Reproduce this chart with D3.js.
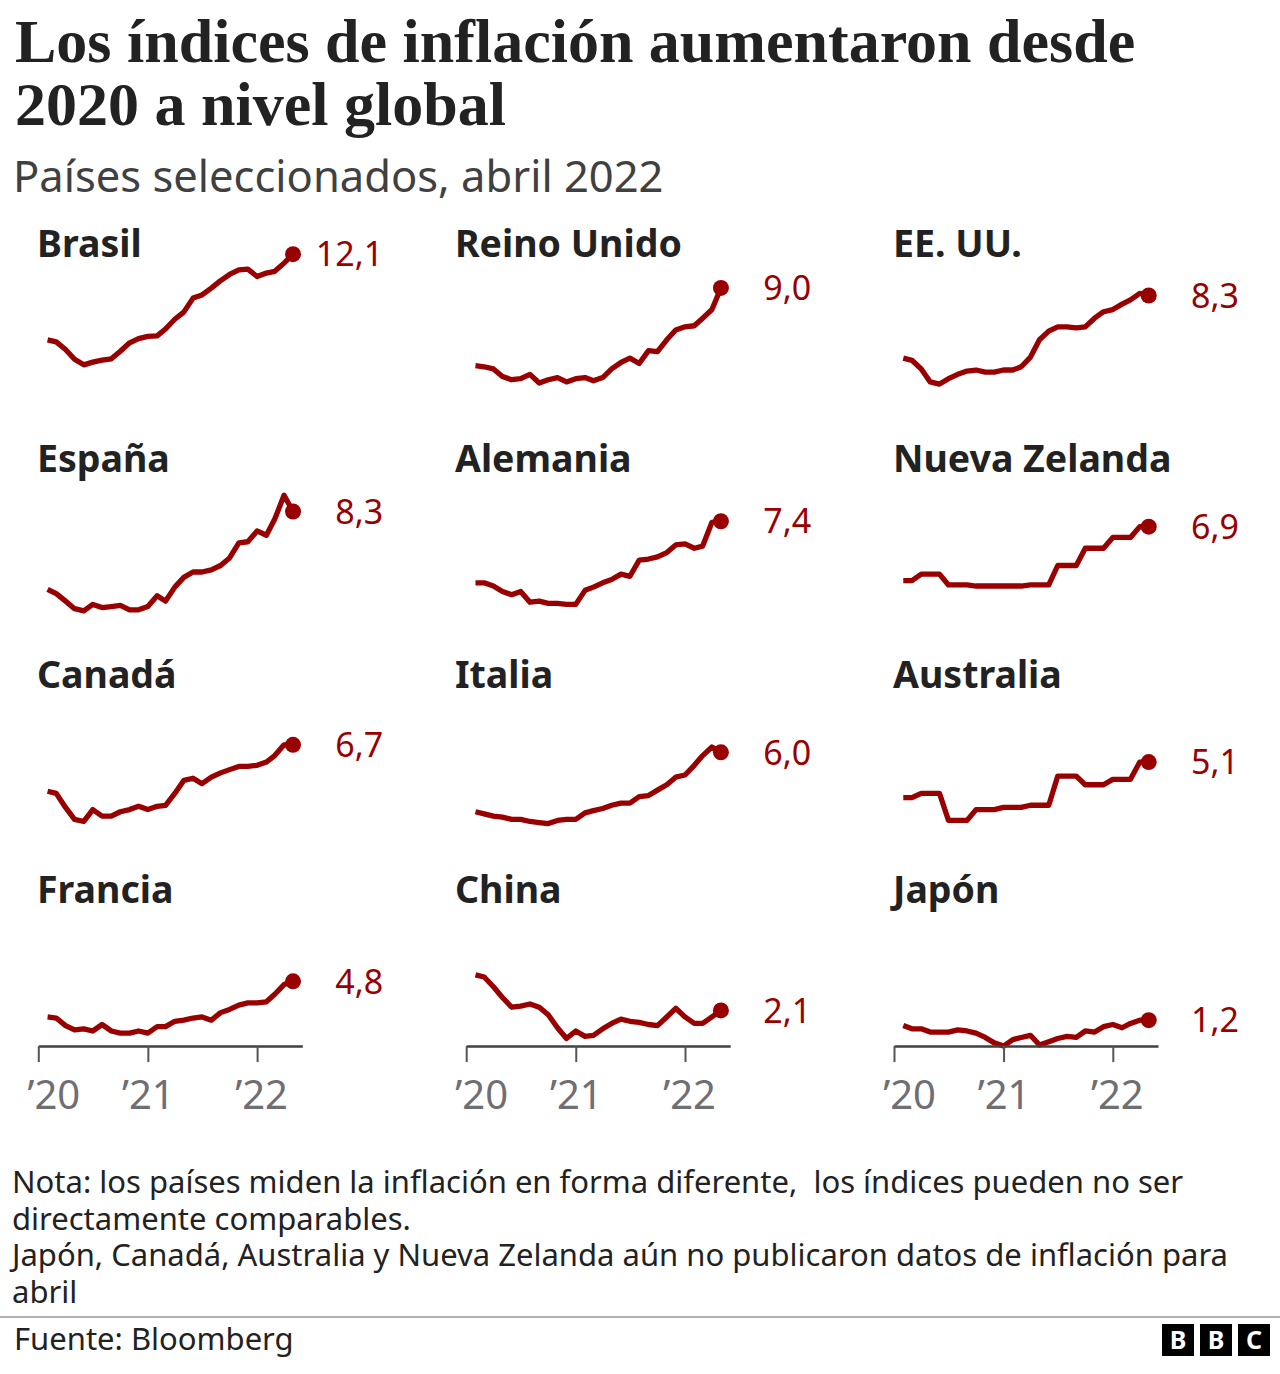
<!DOCTYPE html>
<html><head><meta charset="utf-8">
<script src="https://cdn.jsdelivr.net/npm/d3@7"></script>
<style>body{margin:0;background:#fff}svg{display:block}</style>
</head><body>
<script>
// ---------- DATA ----------
const months = ["2020-01","2020-02","2020-03","2020-04","2020-05","2020-06","2020-07","2020-08","2020-09","2020-10","2020-11","2020-12",
  "2021-01","2021-02","2021-03","2021-04","2021-05","2021-06","2021-07","2021-08","2021-09","2021-10","2021-11","2021-12",
  "2022-01","2022-02","2022-03","2022-04"];
const countries = ["Brasil","Reino Unido","EE. UU.","España","Alemania","Nueva Zelanda","Canadá","Italia","Australia","Francia","China","Japón"];
const brasil = [4.19,4.01,3.30,2.40,1.88,2.13,2.31,2.44,3.14,3.92,4.31,4.52,4.56,5.20,6.10,6.76,8.06,8.35,8.99,9.68,10.25,10.67,10.74,10.06,10.38,10.54,11.30,12.13];
const reinoUnido = [1.8,1.7,1.5,0.8,0.5,0.6,1.0,0.2,0.5,0.7,0.3,0.6,0.7,0.4,0.7,1.5,2.1,2.5,2.0,3.2,3.1,4.2,5.1,5.4,5.5,6.2,7.0,9.0];
const eeuu = [2.5,2.3,1.5,0.3,0.1,0.6,1.0,1.3,1.4,1.2,1.2,1.4,1.4,1.7,2.6,4.2,5.0,5.4,5.4,5.3,5.4,6.2,6.8,7.0,7.5,7.9,8.5,8.3];
const espana = [1.1,0.7,0.0,-0.7,-0.9,-0.3,-0.6,-0.5,-0.4,-0.8,-0.8,-0.5,0.5,0.0,1.3,2.2,2.7,2.7,2.9,3.3,4.0,5.4,5.5,6.5,6.1,7.6,9.8,8.3];
const alemania = [1.7,1.7,1.4,0.9,0.6,0.9,-0.1,0.0,-0.2,-0.2,-0.3,-0.3,1.0,1.3,1.7,2.0,2.5,2.3,3.8,3.9,4.1,4.5,5.2,5.3,4.9,5.1,7.3,7.4];
const nuevaZelanda = [1.9,1.9,2.5,2.5,2.5,1.5,1.5,1.5,1.4,1.4,1.4,1.4,1.4,1.4,1.5,1.5,1.5,3.3,3.3,3.3,4.9,4.9,4.9,5.9,5.9,5.9,6.9,6.9];
const canada = [2.4,2.2,0.9,-0.2,-0.4,0.7,0.1,0.1,0.5,0.7,1.0,0.7,1.0,1.1,2.2,3.4,3.6,3.1,3.7,4.1,4.4,4.7,4.7,4.8,5.1,5.7,6.7,6.7];
const italia = [0.5,0.3,0.1,0.0,-0.2,-0.2,-0.4,-0.5,-0.6,-0.3,-0.2,-0.2,0.4,0.6,0.8,1.1,1.3,1.3,1.9,2.0,2.5,3.0,3.7,3.9,4.8,5.7,6.5,6.0];
const australia = [1.8,1.8,2.2,2.2,2.2,-0.3,-0.3,-0.3,0.7,0.7,0.7,0.9,0.9,0.9,1.1,1.1,1.1,3.8,3.8,3.8,3.0,3.0,3.0,3.5,3.5,3.5,5.1,5.1];
const francia = [1.5,1.4,0.7,0.3,0.4,0.2,0.8,0.2,0.0,0.0,0.2,0.0,0.6,0.6,1.1,1.2,1.4,1.5,1.2,1.9,2.2,2.6,2.8,2.8,2.9,3.6,4.5,4.8];
const china = [5.4,5.2,4.3,3.3,2.4,2.5,2.7,2.4,1.7,0.5,-0.5,0.2,-0.3,-0.2,0.4,0.9,1.3,1.1,1.0,0.8,0.7,1.5,2.3,1.5,0.9,0.9,1.5,2.1];
const japon = [0.7,0.4,0.4,0.1,0.1,0.1,0.3,0.2,0.0,-0.4,-0.9,-1.2,-0.6,-0.4,-0.2,-1.1,-0.8,-0.5,-0.3,-0.4,0.2,0.1,0.6,0.8,0.5,0.9,1.2,1.2];
const seriesList = [brasil, reinoUnido, eeuu, espana, alemania, nuevaZelanda, canada, italia, australia, francia, china, japon];
const tickYears = ["2020-01","2021-01","2022-01"];
const tickLabels = ["\u201920","\u201921","\u201922"];

// ---------- LAYOUT ----------
const W = 1280, H = 1374;
const RED = "#990000";
const colX = [38.3, 466.2, 894];        // panel origin (Jan 2020)
const nameX = [37, 455, 893];
const rowTop = r => 253.4 + 216 * r;    // top of y-range in each row
const nameY = r => 257 + 215.3 * r;
const PW = 264, PH = 144.7;

const parse = d3.timeParse("%Y-%m");
const x = d3.scaleTime().domain([new Date(2020,0,1), new Date(2022,5,1)]).range([0, PW]);
const y = d3.scaleLinear().domain([-1.2, 12.2]).range([PH, 0]);
const ptDate = m => d3.timeMonth.offset(parse(m), 1);
const loc = d3.formatLocale({decimal: ",", thousands: ".", grouping: [3], currency: ["", ""]});
const fmt = loc.format(".1f");

const svg = d3.select("body").append("svg").attr("width", W).attr("height", H)
  .style("font-family", "'Noto Sans', sans-serif");

// Title
const title = svg.append("text")
  .style("font-family", "'Liberation Serif', serif").style("font-weight", "bold")
  .style("font-size", "62px").attr("fill", "#222");
title.append("tspan").attr("x", 15).attr("y", 62).text("Los índices de inflación aumentaron desde");
title.append("tspan").attr("x", 15).attr("y", 125).text("2020 a nivel global");

svg.append("text").attr("x", 13).attr("y", 192).style("font-size", "43.5px").attr("fill", "#404040")
  .text("Países seleccionados, abril 2022");

const line = d3.line().x((d, i) => x(ptDate(months[i]))).y(d => y(d)).curve(d3.curveLinear);

countries.forEach((name, k) => {
  const r = Math.floor(k / 3), c = k % 3;
  const data = seriesList[k];
  svg.append("text").attr("x", nameX[c]).attr("y", nameY(r))
    .style("font-size", "37.5px").style("font-weight", "bold").attr("fill", "#222").text(name);
  const g = svg.append("g").attr("transform", `translate(${colX[c]},${rowTop(r)})`);
  g.append("path").datum(data).attr("d", line).attr("fill", "none").attr("stroke", RED)
    .attr("stroke-width", 5.3).attr("stroke-linejoin", "round").attr("stroke-linecap", "butt");
  const last = data.length - 1;
  g.append("circle").attr("cx", x(ptDate(months[last]))).attr("cy", y(data[last])).attr("r", 8).attr("fill", RED);
  g.append("text").attr("x", 345).attr("y", y(data[last])).attr("dy", "0.36em")
    .attr("text-anchor", "end").style("font-size", "34px").attr("fill", RED).text(fmt(data[last]));

  if (r === 3) {
    const ax = g.append("g").attr("transform", `translate(0,${PH})`)
      .call(d3.axisBottom(x).tickValues(tickYears.map(parse)).tickSize(16).tickSizeOuter(0)
        .tickFormat((d, i) => tickLabels[i]));
    ax.select(".domain").attr("stroke", "#404040").attr("stroke-width", 2.5);
    ax.selectAll(".tick line").attr("stroke", "#555").attr("stroke-width", 2);
    const offs = [15, 0, 4];
    ax.selectAll(".tick text").attr("y", 63).attr("dy", 0).attr("x", (d, i) => offs[i])
      .style("font-size", "40px").style("font-family", "'Noto Sans', sans-serif").attr("fill", "#6e6e73");
  }
});

// Notes
const notes = ["Nota: los países miden la inflación en forma diferente,  los índices pueden no ser",
  "directamente comparables.",
  "Japón, Canadá, Australia y Nueva Zelanda aún no publicaron datos de inflación para",
  "abril"];
const ny = [1193, 1230, 1266, 1303];
notes.forEach((t, i) => svg.append("text").attr("x", 12).attr("y", ny[i]).style("font-size", "31px")
  .style("white-space", "pre").attr("fill", "#222").text(t));

svg.append("line").attr("x1", 0).attr("x2", W).attr("y1", 1317).attr("y2", 1317).attr("stroke", "#999").attr("stroke-width", 1.5);
svg.append("text").attr("x", 14).attr("y", 1350).style("font-size", "31px").attr("fill", "#222").text("Fuente: Bloomberg");

// BBC logo
["B","B","C"].forEach((l, i) => {
  const lx = 1162 + i * 38;
  svg.append("rect").attr("x", lx).attr("y", 1324).attr("width", 32).attr("height", 32).attr("fill", "#000");
  svg.append("text").attr("x", lx + 16).attr("y", 1349).attr("text-anchor", "middle")
    .style("font-size", "25px").style("font-weight", "bold").attr("fill", "#fff").text(l);
});
</script>
</body></html>
